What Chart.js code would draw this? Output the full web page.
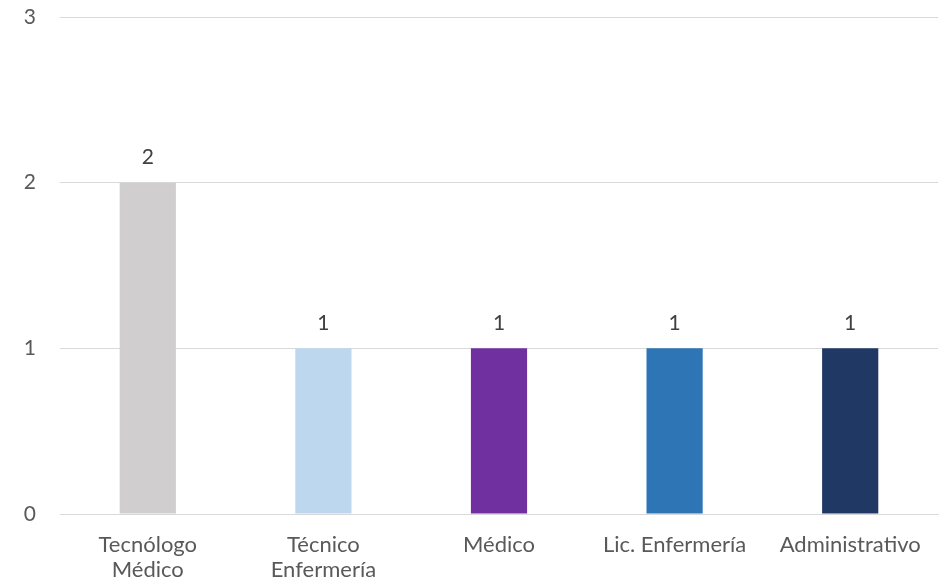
<!DOCTYPE html>
<html>
<head>
<meta charset="utf-8">
<script src="https://cdn.jsdelivr.net/npm/chart.js@4"></script>
<style>
  html, body { margin: 0; padding: 0; background: #ffffff; }
  #wrap { width: 951px; height: 585px; }
</style>
</head>
<body>
<div id="wrap"><canvas id="chart" width="951" height="585"></canvas></div>
<script>
const categories = [['Tecnólogo', 'Médico'], ['Técnico', 'Enfermería'], 'Médico', 'Lic. Enfermería', 'Administrativo'];
const values = [2, 1, 1, 1, 1];
const barColors = ['#d0cece', '#bdd7ee', '#7030a0', '#2e75b6', '#203864'];
const yTicks = [0, 1, 2, 3];

const FONT = "Lato, 'Open Sans', sans-serif";

// value labels above each bar
const valueLabels = {
    id: 'valueLabels',
    afterDatasetsDraw(chart) {
        const ctx = chart.ctx;
        const meta = chart.getDatasetMeta(0);
        ctx.save();
        ctx.fillStyle = '#404040';
        ctx.font = '21px ' + FONT;
        ctx.textAlign = 'center';
        ctx.textBaseline = 'middle';
        meta.data.forEach((bar, i) => {
            ctx.fillText(String(values[i]), bar.x, bar.y - 25);
        });
        ctx.restore();
    }
};

new Chart(document.getElementById('chart').getContext('2d'), {
    type: 'bar',
    data: {
        labels: categories,
        datasets: [{
            data: values,
            backgroundColor: barColors,
            borderWidth: 0,
            categoryPercentage: 1,
            barPercentage: 0.32
        }]
    },
    options: {
        responsive: false,
        animation: false,
        layout: { padding: { top: 17, right: 13, left: 0, bottom: 0 } },
        plugins: {
            legend: { display: false },
            tooltip: { enabled: false }
        },
        scales: {
            y: {
                min: 0,
                max: 3,
                afterFit: s => { s.width = 60; s.paddingTop = 0; s.paddingBottom = 0; },
                afterBuildTicks: s => { s.ticks = yTicks.map(v => ({ value: v })); },
                border: { display: false },
                grid: { color: '#d9d9d9', lineWidth: 1, drawTicks: false },
                ticks: {
                    color: '#595959',
                    font: { family: FONT, size: 21 },
                    padding: 24
                }
            },
            x: {
                afterFit: s => { s.height = 71; s.paddingLeft = 0; s.paddingRight = 0; },
                border: { display: true, color: '#d9d9d9' },
                grid: { display: false, drawTicks: false },
                ticks: {
                    color: '#595959',
                    font: { family: FONT, size: 22, lineHeight: 1.15 },
                    padding: 18,
                    maxRotation: 0,
                    autoSkip: false
                }
            }
        }
    },
    plugins: [valueLabels]
});
</script>
</body>
</html>
